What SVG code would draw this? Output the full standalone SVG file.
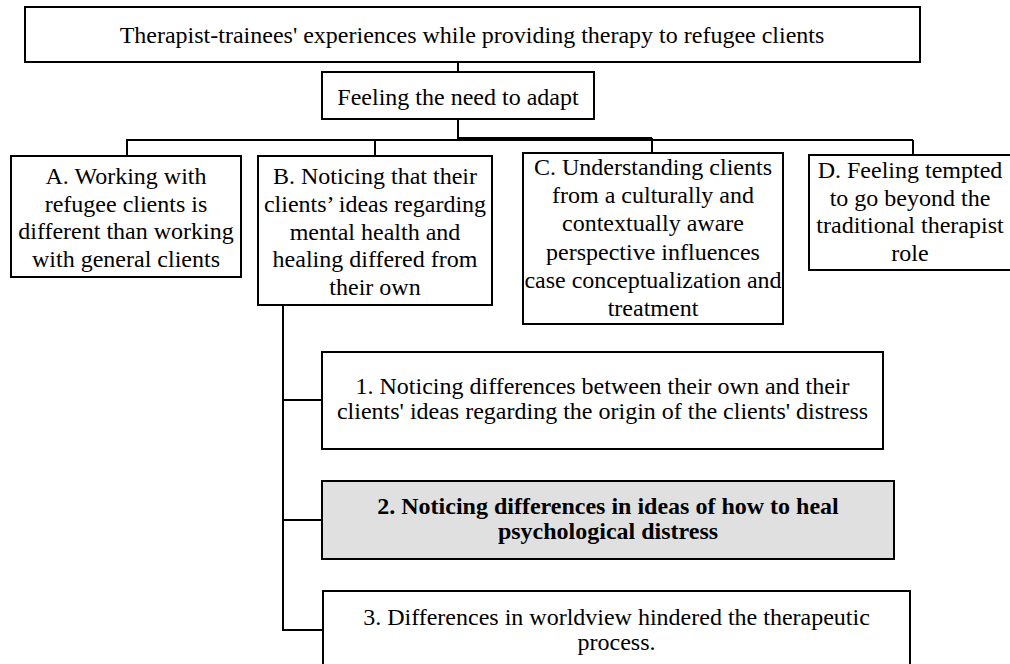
<svg xmlns="http://www.w3.org/2000/svg" width="1010" height="664" viewBox="0 0 1010 664">
<style>
.box{fill:#ffffff;stroke:#000000;stroke-width:2}
.hl{fill:#e0e0e0;stroke:#000000;stroke-width:2}
.t{font-family:"Liberation Serif","Times New Roman",serif;font-size:24px;fill:#000000;text-anchor:middle}
.b{font-weight:bold}
.c{stroke:#000000;stroke-width:2;fill:none}
</style>
<rect width="1010" height="664" fill="#ffffff"/>
<g id="connectors">
<line class="c" x1="458" y1="62" x2="458" y2="72"/>
<line class="c" x1="458" y1="119" x2="458" y2="140"/>
<line class="c" x1="126" y1="140" x2="913" y2="140"/>
<line class="c" x1="458" y1="138" x2="652" y2="138"/>
<line class="c" x1="127" y1="140" x2="127" y2="156"/>
<line class="c" x1="375" y1="140" x2="375" y2="156"/>
<line class="c" x1="652" y1="138" x2="652" y2="153"/>
<line class="c" x1="913" y1="140" x2="913" y2="155"/>
<line class="c" x1="283" y1="305" x2="283" y2="631"/>
<line class="c" x1="282" y1="400" x2="322" y2="400"/>
<line class="c" x1="282" y1="520" x2="322" y2="520"/>
<line class="c" x1="282" y1="630" x2="323" y2="630"/>
</g>
<g id="root">
<rect class="box" x="25" y="7" width="895" height="55"/>
<text class="t" x="472" y="43">Therapist-trainees' experiences while providing therapy to refugee clients</text>
</g>
<g id="adapt">
<rect class="box" x="322" y="72" width="272" height="47"/>
<text class="t" x="458" y="105">Feeling the need to adapt</text>
</g>
<g id="nodeA">
<rect class="box" x="11" y="156" width="230" height="121"/>
<text class="t" x="126"><tspan x="126" y="184">A. Working with</tspan><tspan x="126" y="211.7">refugee clients is</tspan><tspan x="126" y="239.4">different than working</tspan><tspan x="126" y="267.1">with general clients</tspan></text>
</g>
<g id="nodeB">
<rect class="box" x="258" y="156" width="234" height="149"/>
<text class="t" x="375"><tspan x="375" y="184">B. Noticing that their</tspan><tspan x="375" y="211.8">clients’ ideas regarding</tspan><tspan x="375" y="239.6">mental health and</tspan><tspan x="375" y="267.4">healing differed from</tspan><tspan x="375" y="295.2">their own</tspan></text>
</g>
<g id="nodeC">
<rect class="box" x="523" y="153" width="260" height="171"/>
<text class="t" x="653"><tspan x="653" y="175">C. Understanding clients</tspan><tspan x="653" y="203.2">from a culturally and</tspan><tspan x="653" y="231.4">contextually aware</tspan><tspan x="653" y="259.6">perspective influences</tspan><tspan x="653" y="287.8">case conceptualization and</tspan><tspan x="653" y="316">treatment</tspan></text>
</g>
<g id="nodeD">
<rect class="box" x="809" y="155" width="203" height="115"/>
<text class="t" x="910"><tspan x="910" y="178">D. Feeling tempted</tspan><tspan x="910" y="205.6">to go beyond the</tspan><tspan x="910" y="233.2">traditional therapist</tspan><tspan x="910" y="260.8">role</tspan></text>
</g>
<g id="sub1">
<rect class="box" x="322" y="352" width="561" height="97"/>
<text class="t" x="602.5"><tspan x="602.5" y="394">1. Noticing differences between their own and their</tspan><tspan x="602.5" y="418.5">clients' ideas regarding the origin of the clients' distress</tspan></text>
</g>
<g id="sub2">
<rect class="hl" x="322" y="481" width="572" height="78"/>
<text class="t b" x="608"><tspan x="608" y="514">2. Noticing differences in ideas of how to heal</tspan><tspan x="608" y="538.5">psychological distress</tspan></text>
</g>
<g id="sub3">
<rect class="box" x="323" y="591" width="587" height="90"/>
<text class="t" x="616.5"><tspan x="616.5" y="625">3. Differences in worldview hindered the therapeutic</tspan><tspan x="616.5" y="649.5">process.</tspan></text>
</g>
</svg>
